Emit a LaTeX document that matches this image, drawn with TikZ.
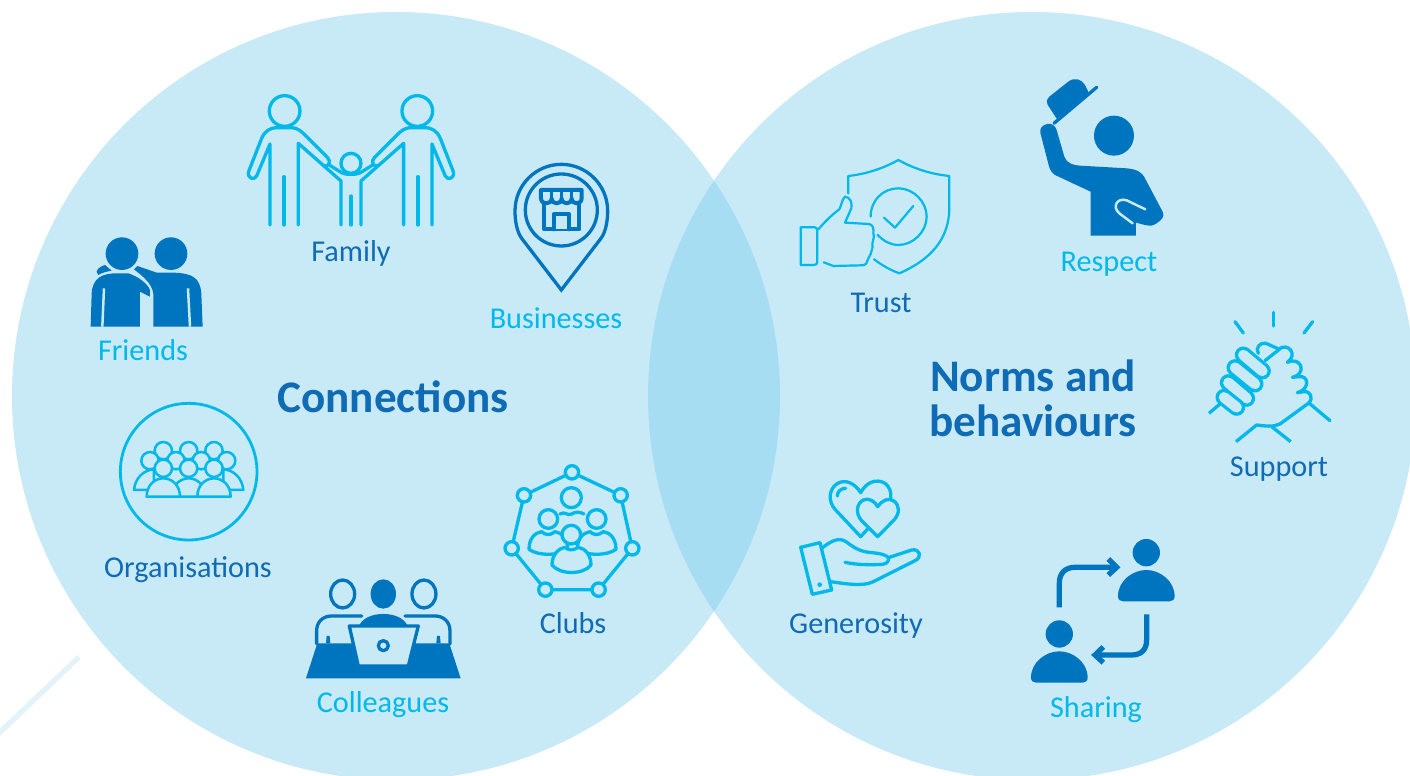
\documentclass[tikz,border=0pt]{standalone}
\usepackage{fontspec}
\setmainfont{Carlito}
\definecolor{discfill}{HTML}{C8E9F6}
\definecolor{overlapfill}{HTML}{A6DDF2}
\definecolor{iconcyan}{HTML}{00B9EA}
\definecolor{icondark}{HTML}{0075BF}
\definecolor{labeldark}{HTML}{0F6BB3}
\definecolor{paleline}{HTML}{E2F3FA}
\tikzset{
  iconline/.style={draw=iconcyan,line width=0.066cm,line cap=round,line join=round},
  thinline/.style={draw=iconcyan,line width=0.044cm,line cap=round,line join=round},
  darkline/.style={draw=icondark,line width=0.066cm,line cap=round,line join=round},
  labelcyan/.style={font=\fontsize{17.2}{19}\selectfont,text=iconcyan,anchor=base,yshift=-0.03cm},
  labelblue/.style={font=\fontsize{17.2}{19}\selectfont,text=labeldark,anchor=base,yshift=-0.03cm},
  headline/.style={font=\fontsize{25.7}{25.6}\selectfont\bfseries,text=labeldark,align=center},
}
\begin{document}
\begin{tikzpicture}[x=0.02cm,y=-0.02cm]
\useasboundingbox (0,0) rectangle (1410,776);
\fill[white] (0,0) rectangle (1410,776);
\draw[paleline,line width=0.106cm] (79,657) -- (-5,737);
\fill[discfill] (396,396) circle (384);
\fill[discfill] (1032,396) circle (384);
\begin{scope}
\clip (396,396) circle (384);
\fill[overlapfill] (1032,396) circle (384);
\end{scope}

% family
\begin{scope}[shift={(60,80)},scale=0.3333]
\draw[iconline] (873,250) circle (30);
\draw[iconline] (873,348) -- (873,435);
\foreach \m in {1,-1} {
\begin{scope}[shift={(873,0)},xscale=\m,shift={(-873,0)}]
\draw[iconline] (674,93) circle (46);
\draw[iconline] (630,435) -- (630,192) -- (590,288) .. controls (583,303) and (558,295) .. (567,272) -- (605,175) .. controls (615,152) and (632,143) .. (650,143) -- (695,143) .. controls (712,143) and (725,155) .. (735,165) -- (803,233) .. controls (815,245) and (805,265) .. (790,256);
\draw[iconline] (715,435) -- (715,190) -- (843,303) -- (843,435);
\draw[iconline] (672,290) -- (672,435);
\draw[iconline] (808,255) -- (835,272) .. controls (850,283) and (862,283) .. (873,283);
\end{scope}
}
\end{scope}
\node[labelblue] (family) at (351,260) {Family};

% friends
\begin{scope}[shift={(60,80)},scale=0.3333]
\fill[icondark] (186,521) circle (49);
\fill[icondark] (333,521) circle (49);
\fill[icondark] (280,740) -- (280,640) .. controls (275,610) and (250,590) .. (222,568) -- (232,558) -- (290,578) -- (340,578) .. controls (400,580) and (420,595) .. (424,640) -- (428,740) -- cycle;
\fill[icondark] (92,740) -- (95,640) .. controls (98,595) and (125,580) .. (170,580) -- (205,580) .. controls (235,590) and (262,610) .. (270,630) -- (270,650) -- (240,635) -- (240,740) -- cycle;
\fill[icondark] (110,575) .. controls (112,565) and (125,558) .. (135,555) -- (155,572) .. controls (140,575) and (125,578) .. (115,585) -- cycle;
\draw[discfill,line width=0.05cm] (132,625) -- (127,740);
\draw[discfill,line width=0.05cm] (384,625) -- (390,740);
\end{scope}
\node[labelcyan] (friends) at (143,359) {Friends};

% businesses
\begin{scope}[shift={(480,150)},scale=0.3333]
\draw[darkline,line join=miter] (244,420) -- (125,265) .. controls (110,245) and (105,210) .. (105,183) .. controls (105,105) and (168,43) .. (244,43) .. controls (320,43) and (383,105) .. (383,183) .. controls (383,210) and (378,245) .. (363,265) -- cycle;
\draw[darkline] (244,180) circle (108);
\draw[darkline,line width=0.08cm] (193,160) -- (193,238) -- (298,238) -- (298,160);
\draw[darkline,line width=0.08cm,fill=discfill] (223,238) -- (223,192) -- (267,192) -- (267,238);
\draw[darkline,line width=0.08cm] (183,120) -- (305,120) -- (305,145) .. controls (305,165) and (275,165) .. (275,145) .. controls (275,165) and (245,165) .. (245,145) .. controls (245,165) and (215,165) .. (215,145) .. controls (215,165) and (183,165) .. (183,145) -- cycle;
\draw[darkline] (215,120) -- (215,145);
\draw[darkline] (245,120) -- (245,145);
\draw[darkline] (275,120) -- (275,145);
\end{scope}
\node[labelcyan] (businesses) at (556,327) {Businesses};

% organisations
\begin{scope}[shift={(90,390)},scale=0.3333]
\draw[iconline,line width=0.056cm] (296,245) circle (205);
\foreach \x in {220,296,372} \draw[iconline,line width=0.05cm,fill=discfill] (\x,182) circle (26);
\foreach \x in {180,258,334,410} \draw[iconline,line width=0.05cm,fill=discfill] (\x,212) circle (26);
\draw[iconline,line width=0.05cm,fill=discfill] (132,300) .. controls (135,265) and (160,240) .. (192,238) -- (192,300) -- cycle;
\draw[iconline,line width=0.05cm,fill=discfill] (460,300) .. controls (457,265) and (432,240) .. (400,238) -- (400,300) -- cycle;
\foreach \x in {296,220,372} {
\draw[iconline,line width=0.05cm,fill=discfill] (\x,235) circle (26);
\draw[iconline,line width=0.05cm,fill=discfill] ({\x-50},320) .. controls ({\x-50},285) and ({\x-25},265) .. (\x,265) .. controls ({\x+25},265) and ({\x+50},285) .. ({\x+50},320) -- cycle;
}
\end{scope}
\node[labelblue] (organisations) at (188,576) {Organisations};

% colleagues
\begin{scope}[shift={(90,390)},scale=0.3333]
\draw[darkline] (758,612) ellipse (36 and 42);
\draw[darkline] (1002,612) ellipse (36 and 42);
\fill[icondark] (880,612) ellipse (38 and 44);
\draw[darkline] (680,762) -- (680,722) .. controls (680,695) and (700,678) .. (725,678) -- (815,678);
\draw[darkline] (1080,762) -- (1080,722) .. controls (1080,695) and (1060,678) .. (1035,678) -- (945,678);
\fill[icondark] (805,712) .. controls (815,685) and (845,672) .. (880,672) .. controls (915,672) and (945,685) .. (955,712) -- cycle;
\fill[icondark] (648,865) -- (682,760) -- (1078,760) -- (1112,865) -- cycle;
\fill[icondark] (708,760) -- (710,738) -- (719,738) -- (721,760) -- cycle;
\fill[icondark] (1039,760) -- (1041,738) -- (1050,738) -- (1052,760) -- cycle;
\draw[darkline,fill=discfill] (778,708) -- (985,708) -- (955,828) -- (805,828) -- cycle;
\draw[darkline] (880,767) circle (15);
\end{scope}
\node[labelcyan] (colleagues) at (383,711) {Colleagues};

% clubs
\begin{scope}[shift={(490,450)},scale=0.3333]
\draw[iconline] (246,67) -- (392,136) -- (427,295) -- (326,419) -- (166,419) -- (65,295) -- (102,136) -- cycle;
\foreach \x/\y in {246/67,392/136,427/295,326/419,166/419,65/295,102/136} \draw[iconline,fill=discfill] (\x,\y) circle (20);
\draw[iconline] (244,143) circle (30);
\draw[iconline] (210,192) .. controls (225,182) and (235,200) .. (245,192) .. controls (255,185) and (270,185) .. (282,192);
\foreach \x in {175,320} {
\draw[iconline,fill=discfill] (\x,207) circle (28);
\draw[iconline,fill=discfill] ({\x-58},298) .. controls ({\x-58},265) and ({\x-40},248) .. ({\x-20},245) .. controls ({\x-10},255) and ({\x+5},258) .. ({\x+20},245) .. controls ({\x+40},248) and ({\x+58},265) .. ({\x+58},298) .. controls ({\x+30},318) and ({\x-30},318) .. ({\x-58},298) -- cycle;
}
\draw[iconline,fill=discfill] (244,254) circle (28);
\draw[iconline,fill=discfill] (186,345) .. controls (186,315) and (205,295) .. (225,292) .. controls (235,302) and (250,302) .. (265,292) .. controls (285,295) and (303,315) .. (303,345) .. controls (280,375) and (210,375) .. (186,345) -- cycle;
\end{scope}
\node[labelblue] (clubs) at (573,632) {Clubs};

% trust
\begin{scope}[shift={(780,70)},scale=0.3333]
\draw[thinline] (205,370) -- (205,318) .. controls (260,312) and (310,295) .. (355,270) .. controls (400,295) and (450,312) .. (508,318) -- (508,420) .. controls (505,510) and (450,570) .. (358,610) .. controls (330,600) and (305,585) .. (282,568);
\draw[thinline] (272,440) .. controls (272,390) and (310,355) .. (355,355) .. controls (400,355) and (440,395) .. (440,440) .. controls (440,485) and (400,525) .. (355,525) .. controls (330,525) and (310,512) .. (293,495);
\draw[thinline] (312,443) -- (345,473) -- (400,408);
\draw[thinline] (62,472) -- (105,472) .. controls (110,472) and (112,478) .. (112,482) -- (112,575) .. controls (112,582) and (108,585) .. (102,585) -- (62,585) -- cycle;
\draw[thinline] (115,478) .. controls (135,455) and (155,435) .. (178,418) .. controls (185,405) and (185,390) .. (195,380) .. controls (210,380) and (218,400) .. (214,415) -- (195,458) -- (265,462) .. controls (278,462) and (282,475) .. (280,490) .. controls (285,500) and (278,510) .. (277,522) .. controls (280,530) and (275,540) .. (272,552) .. controls (270,562) and (262,565) .. (262,572) .. controls (260,582) and (255,586) .. (245,586) -- (160,588) -- (131,577);
\end{scope}
\node[labelblue] (trust) at (881,311) {Trust};

% respect
\begin{scope}[shift={(780,70)},scale=0.3333]
\fill[icondark] (1002,197) circle (60);
\fill[icondark] (802,162) .. controls (815,160) and (825,165) .. (830,180) -- (853,260) .. controls (860,280) and (880,286) .. (900,287) -- (1040,295) .. controls (1070,298) and (1085,305) .. (1095,325) -- (1148,425) .. controls (1155,440) and (1145,450) .. (1130,460) .. controls (1115,470) and (1105,468) .. (1095,465) -- (1068,458) -- (1068,497) -- (932,497) -- (932,365) -- (825,315) .. controls (815,308) and (810,300) .. (806,285) -- (781,188) .. controls (778,175) and (788,165) .. (802,162) -- cycle;
\fill[icondark] (808,80) -- (865,35) .. controls (885,20) and (905,28) .. (915,45) -- (928,72) -- (830,146) -- (810,115) .. controls (798,100) and (798,90) .. (808,80) -- cycle;
\draw[darkline] (822,160) -- (950,52);
\draw[discfill,line width=0.05cm,line cap=round] (1096,418) -- (1040,391) .. controls (1012,382) and (995,410) .. (1018,430) -- (1058,460);
\end{scope}
\node[labelcyan] (respect) at (1109,270) {Respect};

% support
\begin{scope}[shift={(1190,300)},scale=0.3333]
\draw[iconline] (135,65) -- (160,99);
\draw[iconline] (251,37) -- (251,78);
\draw[iconline] (368,65) -- (342,99);
\draw[iconline,line cap=butt] (57,340) -- (90,312);
\draw[iconline] (358,310) -- (420,362);
\draw[iconline,line cap=butt] (138,425) -- (200,375) .. controls (225,378) and (250,382) .. (270,372) -- (355,310) .. controls (372,295) and (362,272) .. (340,275) -- (322,278) .. controls (358,270) and (360,225) .. (325,230) -- (307,232) .. controls (345,225) and (340,180) .. (305,183) -- (292,187) .. controls (325,165) and (295,125) .. (265,148);
\draw[iconline,fill=discfill] (225,182) -- (268,148) -- (228,130) .. controls (210,125) and (195,145) .. (205,160);
\draw[iconline,line cap=butt] (245,380) -- (302,425);
\foreach \xa/\ya/\xb/\yb in {160/165/217/213, 135/203/195/252, 115/248/170/295, 102/292/140/322} {
\draw[iconcyan,line width=0.34cm,line cap=round] (\xa,\ya) -- (\xb,\yb);
\draw[discfill,line width=0.21cm,line cap=round] (\xa,\ya) -- (\xb,\yb);
}
\end{scope}
\node[labelblue] (support) at (1279,475) {Support};

% generosity
\begin{scope}[shift={(780,470)},scale=0.3333]
\draw[iconline] (264,176) -- (242,200) -- (165,118) .. controls (145,95) and (145,60) .. (170,42) .. controls (195,25) and (225,40) .. (242,68) .. controls (260,35) and (290,25) .. (315,40) .. controls (328,50) and (335,65) .. (332,85);
\draw[iconline] (172,78) .. controls (172,65) and (182,55) .. (197,55);
\draw[iconline,fill=discfill] (293,200) -- (245,152) .. controls (225,130) and (230,100) .. (250,90) .. controls (268,82) and (285,95) .. (293,110) .. controls (305,92) and (325,82) .. (340,92) .. controls (360,105) and (360,130) .. (342,150) -- cycle;
\draw[iconline] (62,232) -- (120,218) -- (155,360) -- (97,373) -- cycle;
\fill[iconcyan] (119,344) circle (7);
\draw[iconline] (125,235) .. controls (150,215) and (175,200) .. (198,215) .. controls (225,235) and (240,245) .. (275,248) .. controls (300,250) and (320,255) .. (325,263) -- (395,240) .. controls (420,235) and (428,262) .. (405,272) -- (280,335) .. controls (250,350) and (200,342) .. (152,335);
\draw[iconline] (195,277) .. controls (230,285) and (275,285) .. (308,283) .. controls (322,282) and (328,270) .. (325,263);
\end{scope}
\node[labelblue] (generosity) at (856,632) {Generosity};

% sharing
\begin{scope}[shift={(780,470)},scale=0.3333]
\foreach \x/\y in {1099/207,838/451} {
\fill[icondark] (\x,{\y+41}) circle (41);
\fill[icondark] ({\x-85},{\y+172}) .. controls ({\x-85},{\y+125}) and ({\x-40},{\y+93}) .. (\x,{\y+93}) .. controls ({\x+40},{\y+93}) and ({\x+85},{\y+125}) .. ({\x+85},{\y+172}) .. controls ({\x+85},{\y+182}) and ({\x+78},{\y+187}) .. ({\x+70},{\y+187}) -- ({\x-70},{\y+187}) .. controls ({\x-78},{\y+187}) and ({\x-85},{\y+182}) .. ({\x-85},{\y+172}) -- cycle;
}
\draw[icondark,line width=0.105cm] (838,412) -- (838,340) .. controls (838,310) and (855,292) .. (885,292) -- (1005,292);
\draw[icondark,line width=0.105cm] (985,267) -- (1010,292) -- (985,315);
\draw[icondark,line width=0.105cm] (1100,433) -- (1100,510) .. controls (1100,540) and (1083,555) .. (1055,555) -- (950,555);
\draw[icondark,line width=0.105cm] (970,531) -- (945,555) -- (970,578);
\end{scope}
\node[labelcyan] (sharing) at (1096,716) {Sharing};

\node[headline,anchor=base] (connections) at (393,413) {Connections};
\node[headline] (norms) at (1033,398) {Norms and\\behaviours};
\end{tikzpicture}
\end{document}
